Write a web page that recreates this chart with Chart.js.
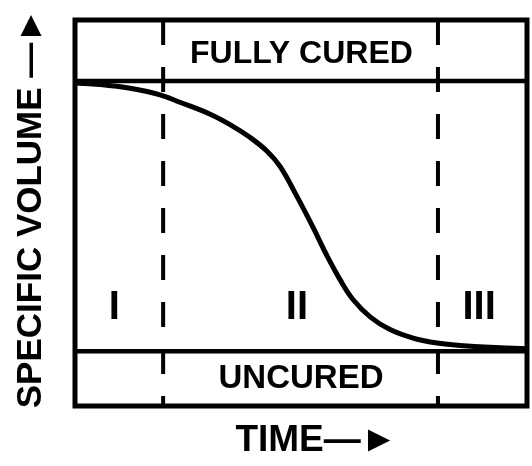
<!DOCTYPE html>
<html>
<head>
<meta charset="utf-8">
<script src="https://cdn.jsdelivr.net/npm/chart.js@4.4.1/dist/chart.umd.min.js"></script>
<style>
html,body{margin:0;padding:0;background:#fff;}
#wrap{width:532px;height:466px;}
</style>
</head>
<body>
<div id="wrap"><canvas id="c" width="532" height="466"></canvas></div>
<script>
// ---- data ----
const timeValues   = [0, 5.5, 12.2, 18.8, 23.2, 29.9, 34.3, 38.7, 42.5, 45.4, 49.1, 52.7, 55.8, 58.6, 61.5, 65.3, 69.7, 74.8, 80.1, 85.2, 91.8, 100];
const volumeValues = [83.7, 83.3, 82.3, 80.6, 78.7, 75.6, 72.9, 69.6, 66.0, 62.0, 54.3, 46.2, 38.8, 32.8, 27.6, 23.1, 19.8, 17.6, 16.3, 15.7, 15.2, 14.8];
const fullyCuredLevel = 84.2;
const uncuredLevel = 14.2;
const regionBounds = [19.5, 80.3];
const regionLabels = ['I', 'II', 'III'];
const regionLabelX = [8.7, 49.1, 89.4];
const regionLabelY = 25.5;
const stateLabels = ['FULLY CURED', 'UNCURED'];
const stateLabelX = [50.1, 50.0];
const stateLabelY = [91.2, 7.0];
const xTitle = 'TIME';
const yTitle = 'SPECIFIC VOLUME';

const FONT = "'Liberation Sans', Arial, Helvetica, sans-serif";

const curve = timeValues.map((t, i) => ({x: t, y: volumeValues[i]}));
const hLine = v => [{x: 0, y: v}, {x: 100, y: v}];
const vLine = v => [{x: v, y: 100}, {x: v, y: 0}];

const annotate = {
  id: 'annotate',
  beforeDatasetsDraw(chart) {
    const {ctx, chartArea: a} = chart;
    ctx.save();
    ctx.strokeStyle = '#000';
    ctx.lineWidth = 5;
    ctx.strokeRect(a.left, a.top, a.right - a.left, a.bottom - a.top);
    ctx.restore();
  },
  afterDatasetsDraw(chart) {
    const {ctx, scales: {x, y}} = chart;
    ctx.save();
    ctx.fillStyle = '#000';
    ctx.textAlign = 'center';
    ctx.textBaseline = 'middle';
    ctx.font = `bold 32px ${FONT}`;
    ctx.fillText(stateLabels[0], x.getPixelForValue(stateLabelX[0]), y.getPixelForValue(stateLabelY[0]));
    ctx.font = `bold 33px ${FONT}`;
    ctx.fillText(stateLabels[1], x.getPixelForValue(stateLabelX[1]), y.getPixelForValue(stateLabelY[1]));
    ctx.font = `bold 40px ${FONT}`;
    regionLabels.forEach((s, i) => {
      ctx.fillText(s, x.getPixelForValue(regionLabelX[i]), y.getPixelForValue(regionLabelY));
    });
    ctx.restore();
  }
};

new Chart(document.getElementById('c'), {
  type: 'line',
  data: {
    datasets: [
      {label: 'Fully cured', data: hLine(fullyCuredLevel), borderColor: '#000', borderWidth: 4.5, pointRadius: 0, tension: 0},
      {label: 'Uncured', data: hLine(uncuredLevel), borderColor: '#000', borderWidth: 4.5, pointRadius: 0, tension: 0},
      {label: 'Region boundary 1', data: vLine(regionBounds[0]), borderColor: '#000', borderWidth: 4, borderDash: [25, 22], borderCapStyle: 'butt', pointRadius: 0, tension: 0},
      {label: 'Region boundary 2', data: vLine(regionBounds[1]), borderColor: '#000', borderWidth: 4, borderDash: [25, 22], borderCapStyle: 'butt', pointRadius: 0, tension: 0},
      {label: 'Specific volume', data: curve, borderColor: '#000', borderWidth: 5, pointRadius: 0, tension: 0.4, borderJoinStyle: 'round'}
    ]
  },
  options: {
    responsive: false,
    devicePixelRatio: 1,
    animation: false,
    layout: {padding: {top: 20, right: 5, bottom: 0, left: 0}},
    plugins: {legend: {display: false}, tooltip: {enabled: false}},
    scales: {
      x: {
        type: 'linear', min: 0, max: 100,
        grid: {display: false}, border: {display: false}, ticks: {display: false},
        title: {display: true, text: '   ' + xTitle + '—►', color: '#000',
                font: {family: FONT, weight: 'bold', size: 37}, padding: {top: 0, bottom: 3}},
        afterFit(s) { s.height = 60; }
      },
      y: {
        type: 'linear', min: 0, max: 100,
        grid: {display: false}, border: {display: false}, ticks: {display: false},
        title: {display: true, text: ' ' + yTitle + ' —►', color: '#000',
                font: {family: FONT, weight: 'bold', size: 35}, padding: {top: 10, bottom: 0}},
        afterFit(s) { s.width = 75; }
      }
    }
  },
  plugins: [annotate]
});
</script>
</body>
</html>
